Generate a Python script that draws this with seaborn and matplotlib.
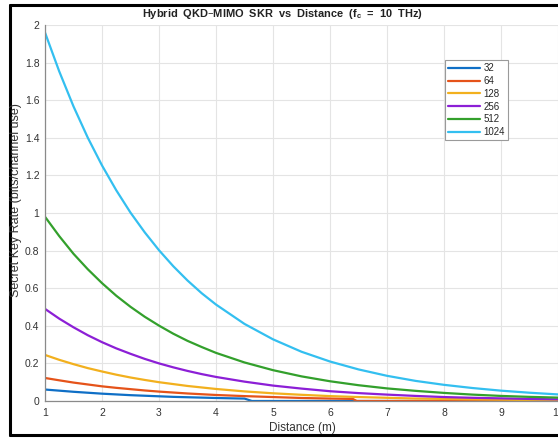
import numpy as np
import pandas as pd
import matplotlib
matplotlib.use("Agg")
import matplotlib.pyplot as plt
import seaborn as sns
from matplotlib.lines import Line2D

# distances (m), read at 0.25 m steps near the steep start, 0.5 m after
dist = [1, 1.25, 1.5, 1.75, 2, 2.25, 2.5, 2.75, 3, 3.25, 3.5, 3.75, 4,
        4.5, 5, 5.5, 6, 6.5, 7, 7.5, 8, 8.5, 9, 9.5, 10]

# SKR (bits/channel use)
skr_1024 = [1.96, 1.753, 1.567, 1.401, 1.253, 1.121, 1.002, 0.897, 0.802, 0.717, 0.641, 0.573, 0.513,
            0.410, 0.328, 0.262, 0.210, 0.168, 0.134, 0.107, 0.086, 0.069, 0.055, 0.044, 0.035]
skr_512 = [0.98, 0.877, 0.783, 0.701, 0.627, 0.560, 0.501, 0.448, 0.401, 0.358, 0.320, 0.287, 0.256,
           0.205, 0.164, 0.131, 0.105, 0.084, 0.067, 0.054, 0.043, 0.034, 0.027, 0.022, 0.018]
skr_256 = [0.49, 0.438, 0.392, 0.350, 0.313, 0.280, 0.251, 0.224, 0.200, 0.179, 0.160, 0.143, 0.128,
           0.103, 0.082, 0.066, 0.052, 0.042, 0.034, 0.027, 0.021, 0.017, 0.014, 0.011, 0.009]
skr_128 = [0.245, 0.219, 0.196, 0.175, 0.157, 0.140, 0.125, 0.112, 0.100, 0.090, 0.080, 0.072, 0.064,
           0.051, 0.041, 0.033, 0.026, 0.021, 0.017, 0.013, 0.011, 0.009, 0.007, 0.005, 0.004]

# the two small arrays hit zero partway, so they carry their own distances
dist_64 = [1, 1.25, 1.5, 1.75, 2, 2.25, 2.5, 2.75, 3, 3.25, 3.5, 3.75, 4,
           4.5, 5, 5.5, 6, 6.4, 6.47, 7, 7.5, 8, 8.5, 9, 9.5, 10]
skr_64 = [0.1225, 0.110, 0.098, 0.088, 0.078, 0.070, 0.063, 0.056, 0.050, 0.045, 0.040, 0.036, 0.032,
          0.026, 0.021, 0.016, 0.013, 0.011, 0.0, 0.0, 0.0, 0.0, 0.0, 0.0, 0.0, 0.0]
dist_32 = [1, 1.25, 1.5, 1.75, 2, 2.25, 2.5, 2.75, 3, 3.25, 3.5, 3.75, 4,
           4.5, 4.63, 5, 5.5, 6, 6.5, 7, 7.5, 8, 8.5, 9, 9.5, 10]
skr_32 = [0.061, 0.055, 0.049, 0.044, 0.039, 0.035, 0.031, 0.028, 0.025, 0.022, 0.020, 0.018, 0.016,
          0.0128, 0.0, 0.0, 0.0, 0.0, 0.0, 0.0, 0.0, 0.0, 0.0, 0.0, 0.0, 0.0]

labels = ["32", "64", "128", "256", "512", "1024"]
colors = ["#0f6fc6", "#e5531a", "#f2b01e", "#8c1fd6", "#33a02c", "#33bff0"]

frames = []
for lab, d, s in [("32", dist_32, skr_32), ("64", dist_64, skr_64),
                  ("128", dist, skr_128), ("256", dist, skr_256),
                  ("512", dist, skr_512), ("1024", dist, skr_1024)]:
    frames.append(pd.DataFrame({"Distance": d, "SKR": s, "N": lab}))
df = pd.concat(frames, ignore_index=True)

sns.set_style("white")
plt.rcParams["font.family"] = ["Liberation Sans", "DejaVu Sans"]

fig = plt.figure(figsize=(5.58, 4.38), dpi=100)
ax = fig.add_axes([45 / 558, 37 / 438, 1 - 45 / 558, (401 - 25) / 438])

sns.lineplot(data=df, x="Distance", y="SKR", hue="N", hue_order=labels,
             palette=colors, linewidth=1.6, ax=ax, legend=False, sort=False)

ax.set_xlim(1, 10)
ax.set_ylim(0, 2)
ax.set_xticks(range(1, 11))
ax.set_yticks([0, 0.2, 0.4, 0.6, 0.8, 1, 1.2, 1.4, 1.6, 1.8, 2])
ax.set_yticklabels(["0", "0.2", "0.4", "0.6", "0.8", "1", "1.2", "1.4", "1.6", "1.8", "2"])
ax.grid(True, color="#e4e4e4", linewidth=0.8)
ax.tick_params(direction="in", length=3, colors="#555555", labelcolor="#333333",
               labelsize=7.5)
ax.tick_params(axis="y", pad=4)
ax.tick_params(axis="x", pad=5)
for side in ["top", "right"]:
    ax.spines[side].set_visible(False)
for side in ["left", "bottom"]:
    ax.spines[side].set_color("#8a8a8a")
    ax.spines[side].set_linewidth(0.9)
ax.set_xlabel("")
ax.set_ylabel("")

fig.text(302 / 558, 1 - 428 / 438, "Distance (m)", ha="center", va="center",
         fontsize=8.5, color="#333333")
fig.text(16.5 / 558, 1 - 200 / 438, "Secret Key Rate (bits/channel use)", ha="center",
         va="center", rotation=90, fontsize=9, color="#333333")
fig.text(282 / 558, 1 - 14 / 438, r"Hybrid  QKD–MIMO  SKR  vs  Distance  (f$_\mathregular{c}$  =  10  THz)",
         ha="center", va="center", fontsize=7.9, fontweight="bold", color="#222222")

handles = [Line2D([], [], color=c, linewidth=1.6) for c in colors]
leg = ax.legend(handles, labels, loc="upper left",
                bbox_to_anchor=(445 / 558, 1 - 60 / 438), bbox_transform=fig.transFigure,
                borderaxespad=0, fontsize=7, labelspacing=0.28, handlelength=3.3,
                handletextpad=0.3, borderpad=0.35, fancybox=False, framealpha=1)
leg.get_frame().set_edgecolor("#9a9a9a")
leg.get_frame().set_linewidth(0.8)

# black screenshot frame (right side cropped)
for xs, ys in [([10, 10], [5, 435]), ([10, 560], [5, 5]), ([10, 560], [435, 435])]:
    fig.add_artist(Line2D([x / 558 for x in xs], [1 - y / 438 for y in ys],
                          transform=fig.transFigure, color="black", linewidth=2.2))

fig.savefig("out.png", dpi=100)
